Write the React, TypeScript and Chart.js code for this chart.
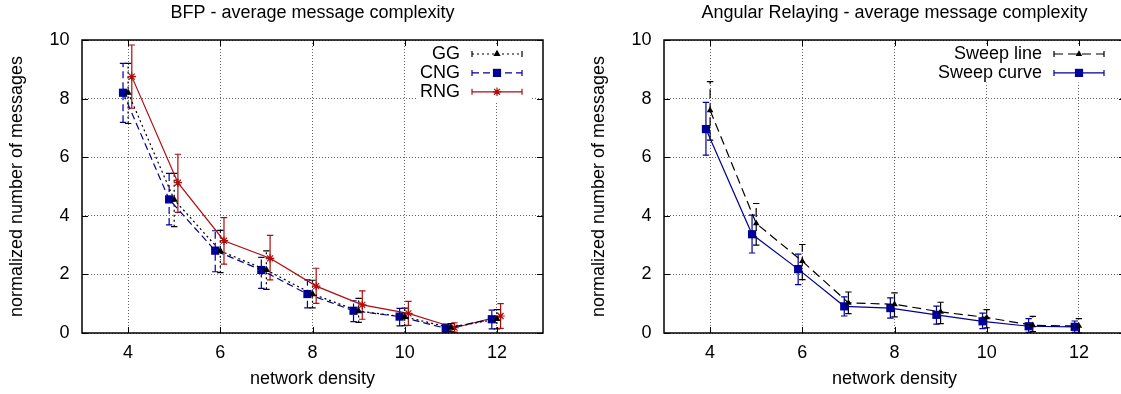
import React, { useEffect, useRef } from 'react';
import { Chart, registerables } from 'chart.js';

Chart.register(...registerables);

// ---------- data ----------
const density = [4, 5, 6, 7, 8, 9, 10, 11, 12];
const xTicks = [4, 6, 8, 10, 12];
const yTicks = [0, 2, 4, 6, 8, 10];

const leftTitle = 'BFP - average message complexity';
const rightTitle = 'Angular Relaying - average message complexity';
const xTitle = 'network density';
const yTitle = 'normalized number of messages';

const ggMean = [8.2, 4.55, 2.8, 2.15, 1.33, 0.75, 0.55, 0.18, 0.48];
const ggLo = [7.15, 3.63, 2.06, 1.49, 0.86, 0.36, 0.25, 0.05, 0.14];
const ggHi = [9.2, 5.45, 3.5, 2.8, 1.8, 1.18, 0.85, 0.32, 0.8];

const cngMean = [8.2, 4.56, 2.81, 2.15, 1.33, 0.76, 0.56, 0.16, 0.47];
const cngLo = [7.19, 3.69, 2.09, 1.52, 0.86, 0.39, 0.24, 0.03, 0.14];
const cngHi = [9.2, 5.45, 3.49, 2.58, 1.81, 1.1, 0.84, 0.3, 0.78];

const rngMean = [8.75, 5.13, 3.15, 2.55, 1.6, 0.96, 0.67, 0.18, 0.58];
const rngLo = [7.67, 4.12, 2.35, 1.81, 1.01, 0.47, 0.26, 0.03, 0.16];
const rngHi = [9.83, 6.1, 3.94, 3.33, 2.21, 1.44, 1.08, 0.35, 1.0];

const sweepLineMean = [7.6, 3.74, 2.45, 1.03, 0.98, 0.72, 0.53, 0.26, 0.24];
const sweepLineLo = [6.58, 3.0, 1.82, 0.66, 0.55, 0.32, 0.18, 0.05, 0.0];
const sweepLineHi = [8.58, 4.42, 3.02, 1.4, 1.37, 1.05, 0.8, 0.57, 0.49];

const sweepCurveMean = [6.96, 3.37, 2.18, 0.91, 0.85, 0.62, 0.4, 0.23, 0.21];
const sweepCurveLo = [6.07, 2.73, 1.65, 0.58, 0.51, 0.3, 0.15, 0.02, 0.02];
const sweepCurveHi = [7.87, 4.02, 2.69, 1.23, 1.2, 0.92, 0.68, 0.49, 0.41];

// small horizontal offsets gnuplot-style so error bars do not overlap
const CNG_SHIFT = -0.11;
const RNG_SHIFT = 0.08;
const CURVE_SHIFT = -0.09;

// ---------- styles ----------
const FONT_FAMILY = "'Liberation Sans', Arial, Helvetica, sans-serif";
const FONT_SIZE = 18;
const BLACK = '#000000';
const BLUE = '#00009a';
const RED = '#b00c0c';
const GRID = 'rgba(0,0,0,0.6)';

type Series = {
  label: string;
  shift: number;
  mean: number[];
  lo: number[];
  hi: number[];
  color: string;
  dash: number[];
  marker: 'triangle' | 'rect' | 'star';
  radius: number;
};

const leftSeries: Series[] = [
  { label: 'GG', shift: 0, mean: ggMean, lo: ggLo, hi: ggHi, color: BLACK, dash: [2, 3], marker: 'triangle', radius: 4.2 },
  { label: 'CNG', shift: CNG_SHIFT, mean: cngMean, lo: cngLo, hi: cngHi, color: BLUE, dash: [7, 4], marker: 'rect', radius: 5.8 },
  { label: 'RNG', shift: RNG_SHIFT, mean: rngMean, lo: rngLo, hi: rngHi, color: RED, dash: [], marker: 'star', radius: 4.2 },
];

const rightSeries: Series[] = [
  { label: 'Sweep line', shift: 0, mean: sweepLineMean, lo: sweepLineLo, hi: sweepLineHi, color: BLACK, dash: [9, 5], marker: 'triangle', radius: 3.8 },
  { label: 'Sweep curve', shift: CURVE_SHIFT, mean: sweepCurveMean, lo: sweepCurveLo, hi: sweepCurveHi, color: BLUE, dash: [], marker: 'rect', radius: 5.8 },
];

function drawMarker(ctx: CanvasRenderingContext2D, kind: string, x: number, y: number, r: number, color: string) {
  ctx.save();
  ctx.setLineDash([]);
  ctx.fillStyle = color;
  ctx.strokeStyle = color;
  ctx.lineWidth = 1.2;
  ctx.beginPath();
  if (kind === 'triangle') {
    for (let k = 0; k < 3; k++) {
      const a = (k * 2 * Math.PI) / 3;
      const px = x + Math.sin(a) * r;
      const py = y - Math.cos(a) * r;
      if (k === 0) ctx.moveTo(px, py);
      else ctx.lineTo(px, py);
    }
    ctx.closePath();
    ctx.fill();
  } else if (kind === 'rect') {
    const s = r * Math.SQRT1_2;
    ctx.rect(x - s, y - s, 2 * s, 2 * s);
    ctx.fill();
  } else {
    ctx.moveTo(x - r, y);
    ctx.lineTo(x + r, y);
    ctx.moveTo(x, y - r);
    ctx.lineTo(x, y + r);
    const d = r * Math.SQRT1_2;
    ctx.moveTo(x - d, y - d);
    ctx.lineTo(x + d, y + d);
    ctx.moveTo(x - d, y + d);
    ctx.lineTo(x + d, y - d);
    ctx.stroke();
  }
  ctx.restore();
}

const framePlugin = {
  id: 'gnuplotFrame',
  beforeDatasetsDraw(chart: any) {
    const ctx: CanvasRenderingContext2D = chart.ctx;
    const yScale = chart.scales.y;
    chart.data.datasets.forEach((ds: any, i: number) => {
      const meta = chart.getDatasetMeta(i);
      ctx.save();
      ctx.strokeStyle = ds.borderColor;
      ctx.lineWidth = 1.2;
      meta.data.forEach((pt: any, j: number) => {
        const x = pt.x;
        const yl = yScale.getPixelForValue(ds.errLo[j]);
        const yh = yScale.getPixelForValue(ds.errHi[j]);
        ctx.setLineDash(ds.borderDash || []);
        ctx.beginPath();
        ctx.moveTo(x, yl);
        ctx.lineTo(x, yh);
        ctx.stroke();
        ctx.setLineDash([]);
        ctx.beginPath();
        ctx.moveTo(x - 3.2, yl);
        ctx.lineTo(x + 3.2, yl);
        ctx.moveTo(x - 3.2, yh);
        ctx.lineTo(x + 3.2, yh);
        ctx.stroke();
      });
      ctx.restore();
    });
  },
  afterDatasetsDraw(chart: any) {
    const ctx: CanvasRenderingContext2D = chart.ctx;
    const { left, right, top, bottom } = chart.chartArea;
    const xScale = chart.scales.x;
    const yScale = chart.scales.y;
    const series: Series[] = chart.options.plugins.gnuplotFrame.series;

    // legend (opaque key)
    ctx.save();
    ctx.font = `${FONT_SIZE}px ${FONT_FAMILY}`;
    const rowGap = 18.9;
    const row0 = top + 14;
    const textRight = right - 83;
    const sampleC = right - 46;
    const half = 25;
    let maxW = 0;
    series.forEach((s) => (maxW = Math.max(maxW, ctx.measureText(s.label).width)));
    ctx.fillStyle = '#ffffff';
    ctx.fillRect(textRight - maxW - 3, row0 - 9, right - 12 - (textRight - maxW - 3), (series.length - 1) * rowGap + 18.5);
    series.forEach((s, i) => {
      const y = row0 + i * rowGap;
      ctx.fillStyle = BLACK;
      ctx.textAlign = 'right';
      ctx.textBaseline = 'middle';
      ctx.fillText(s.label, textRight, y);
      ctx.strokeStyle = s.color;
      ctx.lineWidth = 1.2;
      ctx.setLineDash(s.dash);
      ctx.beginPath();
      ctx.moveTo(sampleC - half, y);
      ctx.lineTo(sampleC + half, y);
      ctx.stroke();
      ctx.setLineDash([]);
      ctx.beginPath();
      ctx.moveTo(sampleC - half, y - 3);
      ctx.lineTo(sampleC - half, y + 3);
      ctx.moveTo(sampleC + half, y - 3);
      ctx.lineTo(sampleC + half, y + 3);
      ctx.stroke();
      drawMarker(ctx, s.marker, sampleC, y, s.radius, s.color);
    });
    ctx.restore();

    // inner tick marks and border
    ctx.save();
    ctx.strokeStyle = BLACK;
    ctx.lineWidth = 1;
    ctx.setLineDash([]);
    ctx.beginPath();
    xTicks.forEach((v) => {
      const x = Math.round(xScale.getPixelForValue(v)) + 0.5;
      ctx.moveTo(x, bottom);
      ctx.lineTo(x, bottom - 6);
      ctx.moveTo(x, top);
      ctx.lineTo(x, top + 6);
    });
    yTicks.forEach((v) => {
      const y = Math.round(yScale.getPixelForValue(v)) + 0.5;
      ctx.moveTo(left, y);
      ctx.lineTo(left + 6, y);
      ctx.moveTo(right, y);
      ctx.lineTo(right - 6, y);
    });
    ctx.stroke();
    ctx.lineWidth = 1.5;
    ctx.strokeRect(left, top, right - left, bottom - top);
    ctx.restore();
  },
};

function makeConfig(title: string, series: Series[]): any {
  const font = { family: FONT_FAMILY, size: FONT_SIZE };
  return {
    type: 'line',
    data: {
      datasets: series.map((s) => ({
        label: s.label,
        data: density.map((d, i) => ({ x: d + s.shift, y: s.mean[i] })),
        errLo: s.lo,
        errHi: s.hi,
        borderColor: s.color,
        backgroundColor: s.color,
        borderWidth: 1.2,
        borderDash: s.dash,
        tension: 0,
        fill: false,
        pointStyle: s.marker,
        pointRadius: s.radius,
        pointHoverRadius: s.radius,
        pointBackgroundColor: s.color,
        pointBorderColor: s.color,
        pointBorderWidth: s.marker === 'star' ? 1.2 : 0,
      })),
    },
    options: {
      responsive: false,
      maintainAspectRatio: false,
      animation: false,
      devicePixelRatio: 1,
      events: [],
      layout: { padding: { left: 0, right: 17, top: 0, bottom: 0 } },
      plugins: {
        legend: { display: false },
        tooltip: { enabled: false },
        title: {
          display: true,
          text: title,
          color: BLACK,
          fullSize: false,
          font: { ...font, weight: 'normal' },
          padding: { top: 2.2, bottom: 16.2 },
        },
        gnuplotFrame: { series },
      },
      scales: {
        x: {
          type: 'linear',
          min: 3,
          max: 13,
          afterBuildTicks: (s: any) => {
            s.ticks = xTicks.map((v) => ({ value: v }));
          },
          afterFit: (s: any) => {
            s.height = 61;
          },
          grid: { color: GRID, lineWidth: 1, drawTicks: false },
          border: { display: false, dash: [1, 2] },
          ticks: { color: BLACK, font, padding: 9.2, maxRotation: 0, autoSkip: false },
          title: { display: true, text: xTitle, color: BLACK, font, padding: { top: 0, bottom: 4.2 } },
        },
        y: {
          type: 'linear',
          min: 0,
          max: 10,
          afterBuildTicks: (s: any) => {
            s.ticks = yTicks.map((v) => ({ value: v }));
          },
          afterFit: (s: any) => {
            s.width = 82;
          },
          grid: { color: GRID, lineWidth: 1, drawTicks: false },
          border: { display: false, dash: [1, 2] },
          ticks: { color: BLACK, font, padding: 12.5, autoSkip: false },
          title: { display: true, text: yTitle, color: BLACK, font, padding: { top: 6.4, bottom: 0 } },
        },
      },
    },
    plugins: [framePlugin],
  };
}

function ChartCanvas({ title, series, left }: { title: string; series: Series[]; left: number }) {
  const ref = useRef<HTMLCanvasElement | null>(null);
  useEffect(() => {
    if (!ref.current) return;
    const chart = new Chart(ref.current, makeConfig(title, series));
    return () => chart.destroy();
  }, [title, series]);
  return (
    <canvas
      ref={ref}
      width={560}
      height={394}
      style={{ position: 'absolute', left, top: 0, width: 560, height: 394 }}
    />
  );
}

export default function App() {
  return (
    <div
      style={{
        position: 'fixed',
        left: 0,
        top: 0,
        width: 1121,
        height: 394,
        overflow: 'hidden',
        background: '#ffffff',
      }}
    >
      <ChartCanvas title={leftTitle} series={leftSeries} left={0} />
      <ChartCanvas title={rightTitle} series={rightSeries} left={582} />
    </div>
  );
}
